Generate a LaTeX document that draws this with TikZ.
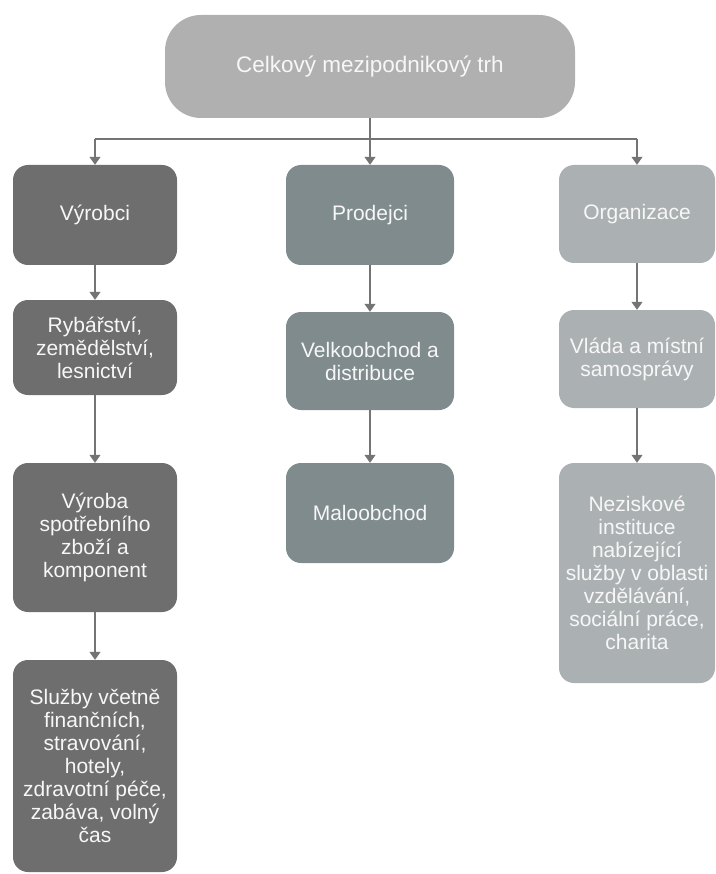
\documentclass[tikz,border=0pt]{standalone}
\usepackage{fontspec}
\setmainfont{Liberation Sans}
\usetikzlibrary{arrows.meta, positioning}
\definecolor{topgray}{HTML}{B0B0B0}
\definecolor{makergray}{HTML}{6E6E6E}
\definecolor{resellgray}{HTML}{7F8B8C}
\definecolor{orggray}{HTML}{ABB1B3}
\definecolor{linegray}{HTML}{747474}
\definecolor{boxtext}{HTML}{F7F7F7}

\begin{document}
\begin{tikzpicture}[x=1pt, y=-1pt,
    box/.style={rounded corners=15pt, text=boxtext, align=center, inner sep=0pt,
                font=\fontsize{21}{23}\selectfont},
    maker/.style={box, fill=makergray, minimum width=164pt},
    resell/.style={box, fill=resellgray, minimum width=168pt},
    org/.style={box, fill=orggray, minimum width=156pt},
    link/.style={draw=linegray, line width=1.2pt},
    arr/.style={link, -{Triangle[width=11pt, length=8pt]}}]
  \useasboundingbox (0,0) rectangle (715,874);
  \node[box, fill=topgray, rounded corners=36pt, minimum width=410pt, minimum height=103pt,
        font=\fontsize{22.5}{24}\selectfont]
    (total) at (370,66.5) {Celkový mezipodnikový trh};
  % vyrobci
  \node[maker, minimum height=100pt] (vyrobci) at (95,215) {Výrobci};
  \node[maker, minimum height=95pt] (rybarstvi) at (95,347.5) {Rybářství,\\zemědělství,\\lesnictví};
  \node[maker, minimum height=149pt] (vyroba) at (95,537.5) {Výroba\\spotřebního\\zboží a\\komponent};
  \node[maker, minimum height=212pt] (sluzby) at (95,766)
    {Služby včetně\\finančních,\\stravování,\\hotely,\\zdravotní péče,\\zabáva, volný\\čas};
  % prodejci
  \node[resell, minimum height=100pt] (prodejci) at (370,215) {Prodejci};
  \node[resell, minimum height=98pt] (velkoobchod) at (370,361) {Velkoobchod a\\distribuce};
  \node[resell, minimum height=100pt] (maloobchod) at (370,513) {Maloobchod};
  % organizace
  \node[org, minimum height=98pt] (organizace) at (637,214) {Organizace};
  \node[org, minimum height=98pt] (vlada) at (637,359) {Vláda a místní\\samosprávy};
  \node[org, minimum height=220pt] (neziskove) at (637,573)
    {Neziskové\\instituce\\nabízející\\služby v oblasti\\vzdělávání,\\sociální práce,\\charita};
  \coordinate (bus) at (370,139);
  \draw[link] (total) -- (bus);
  \draw[link] (bus -| vyrobci) -- (bus -| organizace);
  \foreach \n in {vyrobci, prodejci, organizace}
    \draw[arr] (bus -| \n) -- (\n.north);
  \foreach \a/\b in {vyrobci/rybarstvi, rybarstvi/vyroba, vyroba/sluzby,
                     prodejci/velkoobchod, velkoobchod/maloobchod,
                     organizace/vlada, vlada/neziskove}
    \draw[arr] (\a) -- (\b);
\end{tikzpicture}
\end{document}
